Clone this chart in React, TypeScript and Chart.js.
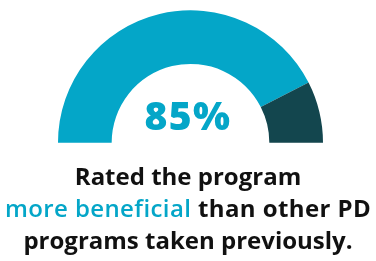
import React, { useEffect, useRef } from "react";
import { Chart, registerables } from "chart.js";

Chart.register(...registerables);

const labels = ["More beneficial", "Other"];
const values = [85, 15];
const colors = ["#04A6C8", "#13464E"];
const centerLabel = "85%";
const line1 = "Rated the program";
const line2Accent = "more beneficial";
const line2Rest = " than other PD";
const line3 = "programs taken previously.";

export default function App() {
  const ref = useRef<HTMLCanvasElement | null>(null);
  useEffect(() => {
    document.body.style.margin = "0";
    const chart = new Chart(ref.current!, {
      type: "doughnut",
      data: {
        labels,
        datasets: [
          {
            data: values,
            backgroundColor: colors,
            borderWidth: 0,
          },
        ],
      },
      options: {
        animation: false,
        responsive: true,
        maintainAspectRatio: false,
        rotation: -90,
        circumference: 180,
        cutout: "59.5%",
        layout: { padding: 0 },
        plugins: { legend: { display: false }, tooltip: { enabled: false } },
      },
    });
    return () => chart.destroy();
  }, []);

  const font = "'Open Sans', Lato, sans-serif";
  return (
    <div style={{ position: "relative", width: 376, height: 261, background: "#fff", overflow: "hidden" }}>
      <div style={{ position: "absolute", left: 58, top: 10, width: 265, height: 133 }}>
        <canvas ref={ref} />
      </div>
      <div
        style={{
          position: "absolute",
          left: 0,
          width: 376,
          top: 89.5,
          textAlign: "center",
          fontFamily: font,
          fontWeight: 800,
          fontSize: 39,
          letterSpacing: 1.5,
          lineHeight: "50px",
          color: colors[0],
        }}
      >
        {centerLabel}
      </div>
      <div
        style={{
          position: "absolute",
          left: 0,
          width: 376,
          top: 160,
          textAlign: "center",
          fontFamily: font,
          fontWeight: 700,
          fontSize: 24,
          lineHeight: "32px",
          color: "#111",
          whiteSpace: "nowrap",
        }}
      >
        <div>{line1}</div>
        <div style={{ letterSpacing: 0.4 }}>
          <span style={{ color: colors[0], fontWeight: 600 }}>{line2Accent}</span>
          {line2Rest}
        </div>
        <div>{line3}</div>
      </div>
    </div>
  );
}
